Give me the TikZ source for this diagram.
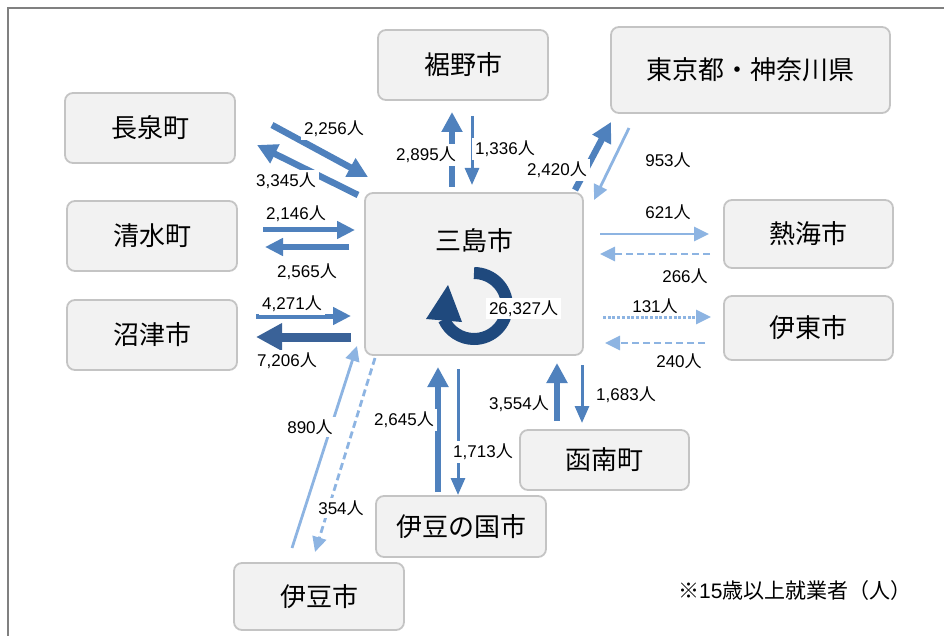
\documentclass[tikz,border=0pt]{standalone}
\usepackage{fontspec}
\setmainfont{Liberation Sans}
\newfontfamily\cjk{Noto Sans CJK JP}
\usetikzlibrary{arrows.meta}
\definecolor{flowblue}{HTML}{4F81BD}
\definecolor{flowlight}{HTML}{8DB4E2}
\definecolor{flowdark}{HTML}{3A6298}
\definecolor{ringblue}{HTML}{1F497D}
\definecolor{boxfill}{HTML}{F2F2F2}
\definecolor{boxline}{HTML}{C4C4C4}
\definecolor{framegray}{HTML}{808080}
\newcommand\ppl[1]{#1{\cjk 人}}
\begin{document}
\begin{tikzpicture}[x=1pt,y=-1pt,
  place/.style={draw=boxline, fill=boxfill, line width=1.8pt, rounded corners=8pt,
    font=\cjk\fontsize{26}{30}\selectfont, inner sep=0pt},
  lab/.style={fill=white, inner sep=3pt, font=\fontsize{17}{20}\selectfont},
  bigarr/.style={flowblue, line width=6.5pt, -{Triangle[width=20pt,length=20pt]}},
  midarr/.style={flowblue, line width=5pt, -{Triangle[width=17pt,length=18pt]}},
  thinarr/.style={flowblue, line width=3pt, -{Triangle[width=14pt,length=17pt]}},
  hugearr/.style={flowdark, line width=9pt, -{Triangle[width=26pt,length=26pt]}},
  lightarr/.style={flowlight, line width=2.8pt, -{Triangle[width=14pt,length=15pt]}},
  lightdash/.style={lightarr, dash pattern=on 7pt off 4pt},
  lightdot/.style={lightarr, line width=3pt, dash pattern=on 3pt off 1.7pt}
]
\useasboundingbox (0,0) rectangle (944,636);
\draw[framegray, line width=1.5pt] (8,636) -- (8,8) -- (944,8);

% boxes
\node[place, minimum width=170pt, minimum height=70pt] (susono) at (463,65) {裾野市};
\node[place, minimum width=279pt, minimum height=86pt] (tokyo) at (750.5,70) {東京都・神奈川県};
\node[place, minimum width=170pt, minimum height=70pt] (nagaizumi) at (150,128) {長泉町};
\node[place, minimum width=170pt, minimum height=70pt] (shimizu) at (152,236) {清水町};
\node[place, minimum width=170pt, minimum height=70pt] (numazu) at (152,335) {沼津市};
\node[place, minimum width=218pt, minimum height=162pt] (mishima) at (474,274) {};
\node[font=\cjk\fontsize{26}{30}\selectfont, inner sep=0pt] (mishimaname) at (474,241) {三島市};
\node[place, minimum width=169pt, minimum height=68pt] (atami) at (808.5,234) {熱海市};
\node[place, minimum width=169pt, minimum height=64pt] (ito) at (808.5,328) {伊東市};
\node[place, minimum width=169pt, minimum height=60pt] (kannami) at (604.5,460) {函南町};
\node[place, minimum width=170pt, minimum height=61pt] (izunokuni) at (461,526.5) {伊豆の国市};
\node[place, minimum width=170pt, minimum height=67pt] (izu) at (319,596.5) {伊豆市};

% arrow end points
\coordinate (a1s) at (272,125); \coordinate (a1e) at (368,177);
\coordinate (a2s) at (358,195); \coordinate (a2e) at (257,145);
\coordinate (a3s) at (263,230); \coordinate (a3e) at (355,230);
\coordinate (a4s) at (349,247); \coordinate (a4e) at (265,247);
\coordinate (a5s) at (256,316); \coordinate (a5e) at (351,316);
\coordinate (a6s) at (351,337); \coordinate (a6e) at (256,337);
\coordinate (a7s) at (452,187); \coordinate (a7e) at (452,112);
\coordinate (a8s) at (472,116); \coordinate (a8e) at (472,185);
\coordinate (a9s) at (575,190); \coordinate (a9e) at (611,122);
\coordinate (a10s) at (629,128); \coordinate (a10e) at (594,200);
\coordinate (a11s) at (600,234); \coordinate (a11e) at (709,234);
\coordinate (a12s) at (710,254); \coordinate (a12e) at (600,254);
\coordinate (a13s) at (603,317); \coordinate (a13e) at (711,317);
\coordinate (a14s) at (705,343); \coordinate (a14e) at (605,343);
\coordinate (a15s) at (292,548); \coordinate (a15e) at (357,346);
\coordinate (a16s) at (375,358); \coordinate (a16e) at (315,552);
\coordinate (a17s) at (438,492); \coordinate (a17e) at (438,367);
\coordinate (a18s) at (458,369); \coordinate (a18e) at (458,495);
\coordinate (a19s) at (557,421); \coordinate (a19e) at (557,363);
\coordinate (a20s) at (582,365); \coordinate (a20e) at (582,423);

\draw[bigarr] (a1s) -- (a1e);
\draw[bigarr] (a2s) -- (a2e);
\draw[midarr] (a3s) -- (a3e);
\draw[midarr] (a4s) -- (a4e);
\draw[midarr] (a5s) -- (a5e);
\draw[hugearr] (a6s) -- (a6e);
\draw[bigarr] (a7s) -- (a7e);
\draw[thinarr] (a8s) -- (a8e);
\draw[bigarr] (a9s) -- (a9e);
\draw[lightarr] (a10s) -- (a10e);
\draw[lightarr] (a11s) -- (a11e);
\draw[lightdash] (a12s) -- (a12e);
\draw[lightdot] (a13s) -- (a13e);
\draw[lightdash] (a14s) -- (a14e);
\draw[lightarr] (a15s) -- (a15e);
\draw[lightdash] (a16s) -- (a16e);
\draw[bigarr] (a17s) -- (a17e);
\draw[thinarr] (a18s) -- (a18e);
\draw[bigarr, line width=5.5pt] (a19s) -- (a19e);
\draw[thinarr] (a20s) -- (a20e);

% labels
\node[lab] (l1) at (334,129) {\ppl{2,256}};
\node[lab] (l2) at (286,181) {\ppl{3,345}};
\node[lab] (l3) at (296,214) {\ppl{2,146}};
\node[lab] (l4) at (307,272) {\ppl{2,565}};
\node[lab] (l5) at (292,304) {\ppl{4,271}};
\node[lab] (l6) at (287,361) {\ppl{7,206}};
\node[lab] (l7) at (426,155) {\ppl{2,895}};
\node[lab] (l8) at (505,149) {\ppl{1,336}};
\node[lab] (l9) at (557,170) {\ppl{2,420}};
\node[lab] (l10) at (668,160) {\ppl{953}};
\node[lab] (l11) at (668,212) {\ppl{621}};
\node[lab] (l12) at (685,276) {\ppl{266}};
\node[lab] (l13) at (655,306) {\ppl{131}};
\node[lab] (l14) at (679,361) {\ppl{240}};
\node[lab] (l15) at (310,427) {\ppl{890}};
\node[lab] (l16) at (341,508) {\ppl{354}};
\node[lab] (l17) at (404,420) {\ppl{2,645}};
\node[lab] (l18) at (483,452) {\ppl{1,713}};
\node[lab] (l19) at (519,404) {\ppl{3,554}};
\node[lab] (l20) at (626,395) {\ppl{1,683}};

% internal flow ring
\coordinate (ringc) at (474,306);
\draw[ringblue, line width=12pt] (ringc) ++(-90:33) arc[start angle=-90, end angle=156, radius=33];
\fill[ringblue] (426,319) -- (462,322) -- (448,285) -- cycle;
\node[lab] (linner) at (523.5,308.5) {\ppl{26,327}};

% note
\node[anchor=west, inner sep=0pt, font=\fontsize{21}{24}\selectfont] (note) at (678,591)
  {{\cjk ※}15{\cjk 歳以上就業者（人）}};
\end{tikzpicture}
\end{document}
